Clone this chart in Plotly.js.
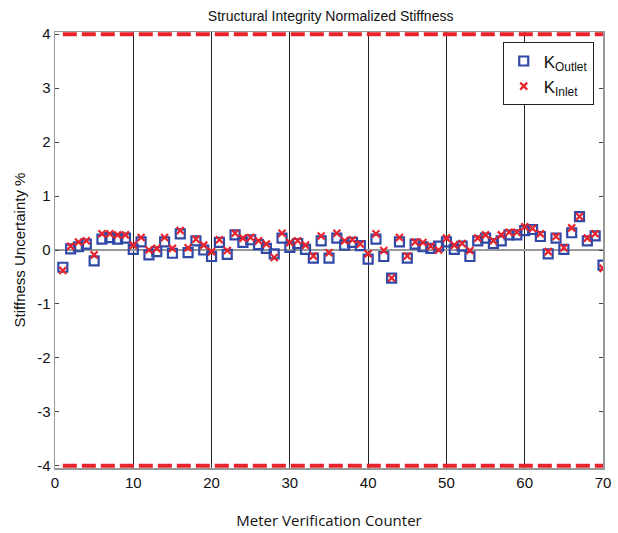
<!DOCTYPE html>
<html><head><meta charset="utf-8">
<script src="https://cdn.plot.ly/plotly-3.0.1.min.js"></script>
<style>html,body{margin:0;padding:0;background:#fff}</style>
</head><body>
<div id="chart" style="width:618px;height:533px"></div>
<script>
const counter = [];
for (let i = 1; i <= 70; i++) counter.push(i);
const kOutlet = [-0.32,0.02,0.06,0.11,-0.20,0.20,0.23,0.20,0.22,0.01,
  0.15,-0.09,-0.03,0.15,-0.06,0.30,-0.05,0.17,0.00,-0.12,
  0.14,-0.08,0.28,0.14,0.19,0.10,0.03,-0.07,0.22,0.05,
  0.12,0.01,-0.15,0.17,-0.15,0.22,0.09,0.14,0.08,-0.17,
  0.20,-0.12,-0.52,0.15,-0.15,0.11,0.06,0.03,0.07,0.15,
  0.01,0.07,-0.12,0.17,0.22,0.12,0.17,0.28,0.28,0.36,
  0.38,0.25,-0.07,0.22,0.01,0.32,0.62,0.17,0.26,-0.28];
const kInlet = [-0.38,0.07,0.15,0.17,-0.09,0.30,0.30,0.28,0.28,0.09,
  0.23,0.00,0.03,0.23,0.03,0.36,0.04,0.20,0.09,-0.03,
  0.19,-0.01,0.31,0.22,0.23,0.17,0.11,-0.14,0.31,0.14,
  0.17,0.09,-0.11,0.26,-0.05,0.31,0.17,0.19,0.11,-0.07,
  0.30,-0.01,-0.52,0.23,-0.11,0.15,0.14,0.07,0.00,0.22,
  0.09,0.12,-0.01,0.22,0.28,0.17,0.28,0.33,0.33,0.43,
  0.40,0.30,-0.03,0.25,0.04,0.41,0.62,0.22,0.30,-0.34];
const limitX = [1, 70];
const upperLimit = [4, 4];
const lowerLimit = [-4, -4];
const xTicks = [0,10,20,30,40,50,60,70];
const yTicks = [-4,-3,-2,-1,0,1,2,3,4];
const yTickText = ['-4','-3','-2','-1','0','1','2','3','4'];

const font = 'Liberation Sans, Arial, sans-serif';
const traces = [
  {x: limitX, y: upperLimit, mode: 'lines', showlegend: false, hoverinfo: 'skip', cliponaxis: false,
   line: {color: '#e8232b', width: 4, dash: '14px,5px'}},
  {x: limitX, y: lowerLimit, mode: 'lines', showlegend: false, hoverinfo: 'skip', cliponaxis: false,
   line: {color: '#e8232b', width: 4, dash: '14px,5px'}},
  {x: counter, y: kOutlet, mode: 'markers', name: 'K<sub>Outlet</sub>',
   marker: {symbol: 'square-open', size: 9, color: '#3049a6', line: {width: 2.2, color: '#3049a6'}}},
  {x: counter, y: kInlet, mode: 'markers', name: 'K<sub>Inlet</sub>',
   marker: {symbol: 'x-thin-open', size: 7, color: '#e8232b', line: {width: 2.2, color: '#e8232b'}}}
];
const layout = {
  width: 618, height: 533,
  margin: {l: 55, r: 15, t: 32, b: 65},
  paper_bgcolor: '#fff', plot_bgcolor: '#fff',
  font: {family: font, size: 15, color: '#111'},
  title: {text: 'Structural Integrity Normalized Stiffness', font: {family: font, size: 14, color: '#111'},
          x: 0.535, xanchor: 'center', y: 0.97, yanchor: 'middle'},
  xaxis: {range: [0, 70], tickvals: xTicks, showgrid: true, gridcolor: '#222', gridwidth: 1,
          zeroline: false, showline: true, linecolor: '#999', linewidth: 1.5, mirror: true,
          ticks: 'inside', ticklen: 4, tickcolor: '#444', layer: 'below traces',
          tickfont: {family: font, size: 15, color: '#111'},
          title: {text: 'Meter Verification Counter', font: {family: 'Open Sans, sans-serif', size: 15, color: '#111'}, standoff: 26}},
  yaxis: {range: [-4.04, 4.04], tickvals: yTicks, ticktext: yTickText, showgrid: false,
          zeroline: true, zerolinecolor: '#999', zerolinewidth: 1.5,
          showline: true, linecolor: '#999', linewidth: 1.5, mirror: 'ticks',
          ticks: 'inside', ticklen: 4, tickcolor: '#444', layer: 'below traces',
          tickfont: {family: font, size: 15, color: '#111'},
          title: {text: 'Stiffness Uncertainty %', font: {family: font, size: 15, color: '#111'}, standoff: 8}},
  legend: {x: 0.817, y: 0.976, xanchor: 'left', yanchor: 'top', bgcolor: '#fff',
           bordercolor: '#222', borderwidth: 1, font: {family: font, size: 17, color: '#111'},
           itemwidth: 30, tracegroupgap: 4}
};
Plotly.newPlot('chart', traces, layout, {displayModeBar: false, staticPlot: true});
</script>
</body></html>
